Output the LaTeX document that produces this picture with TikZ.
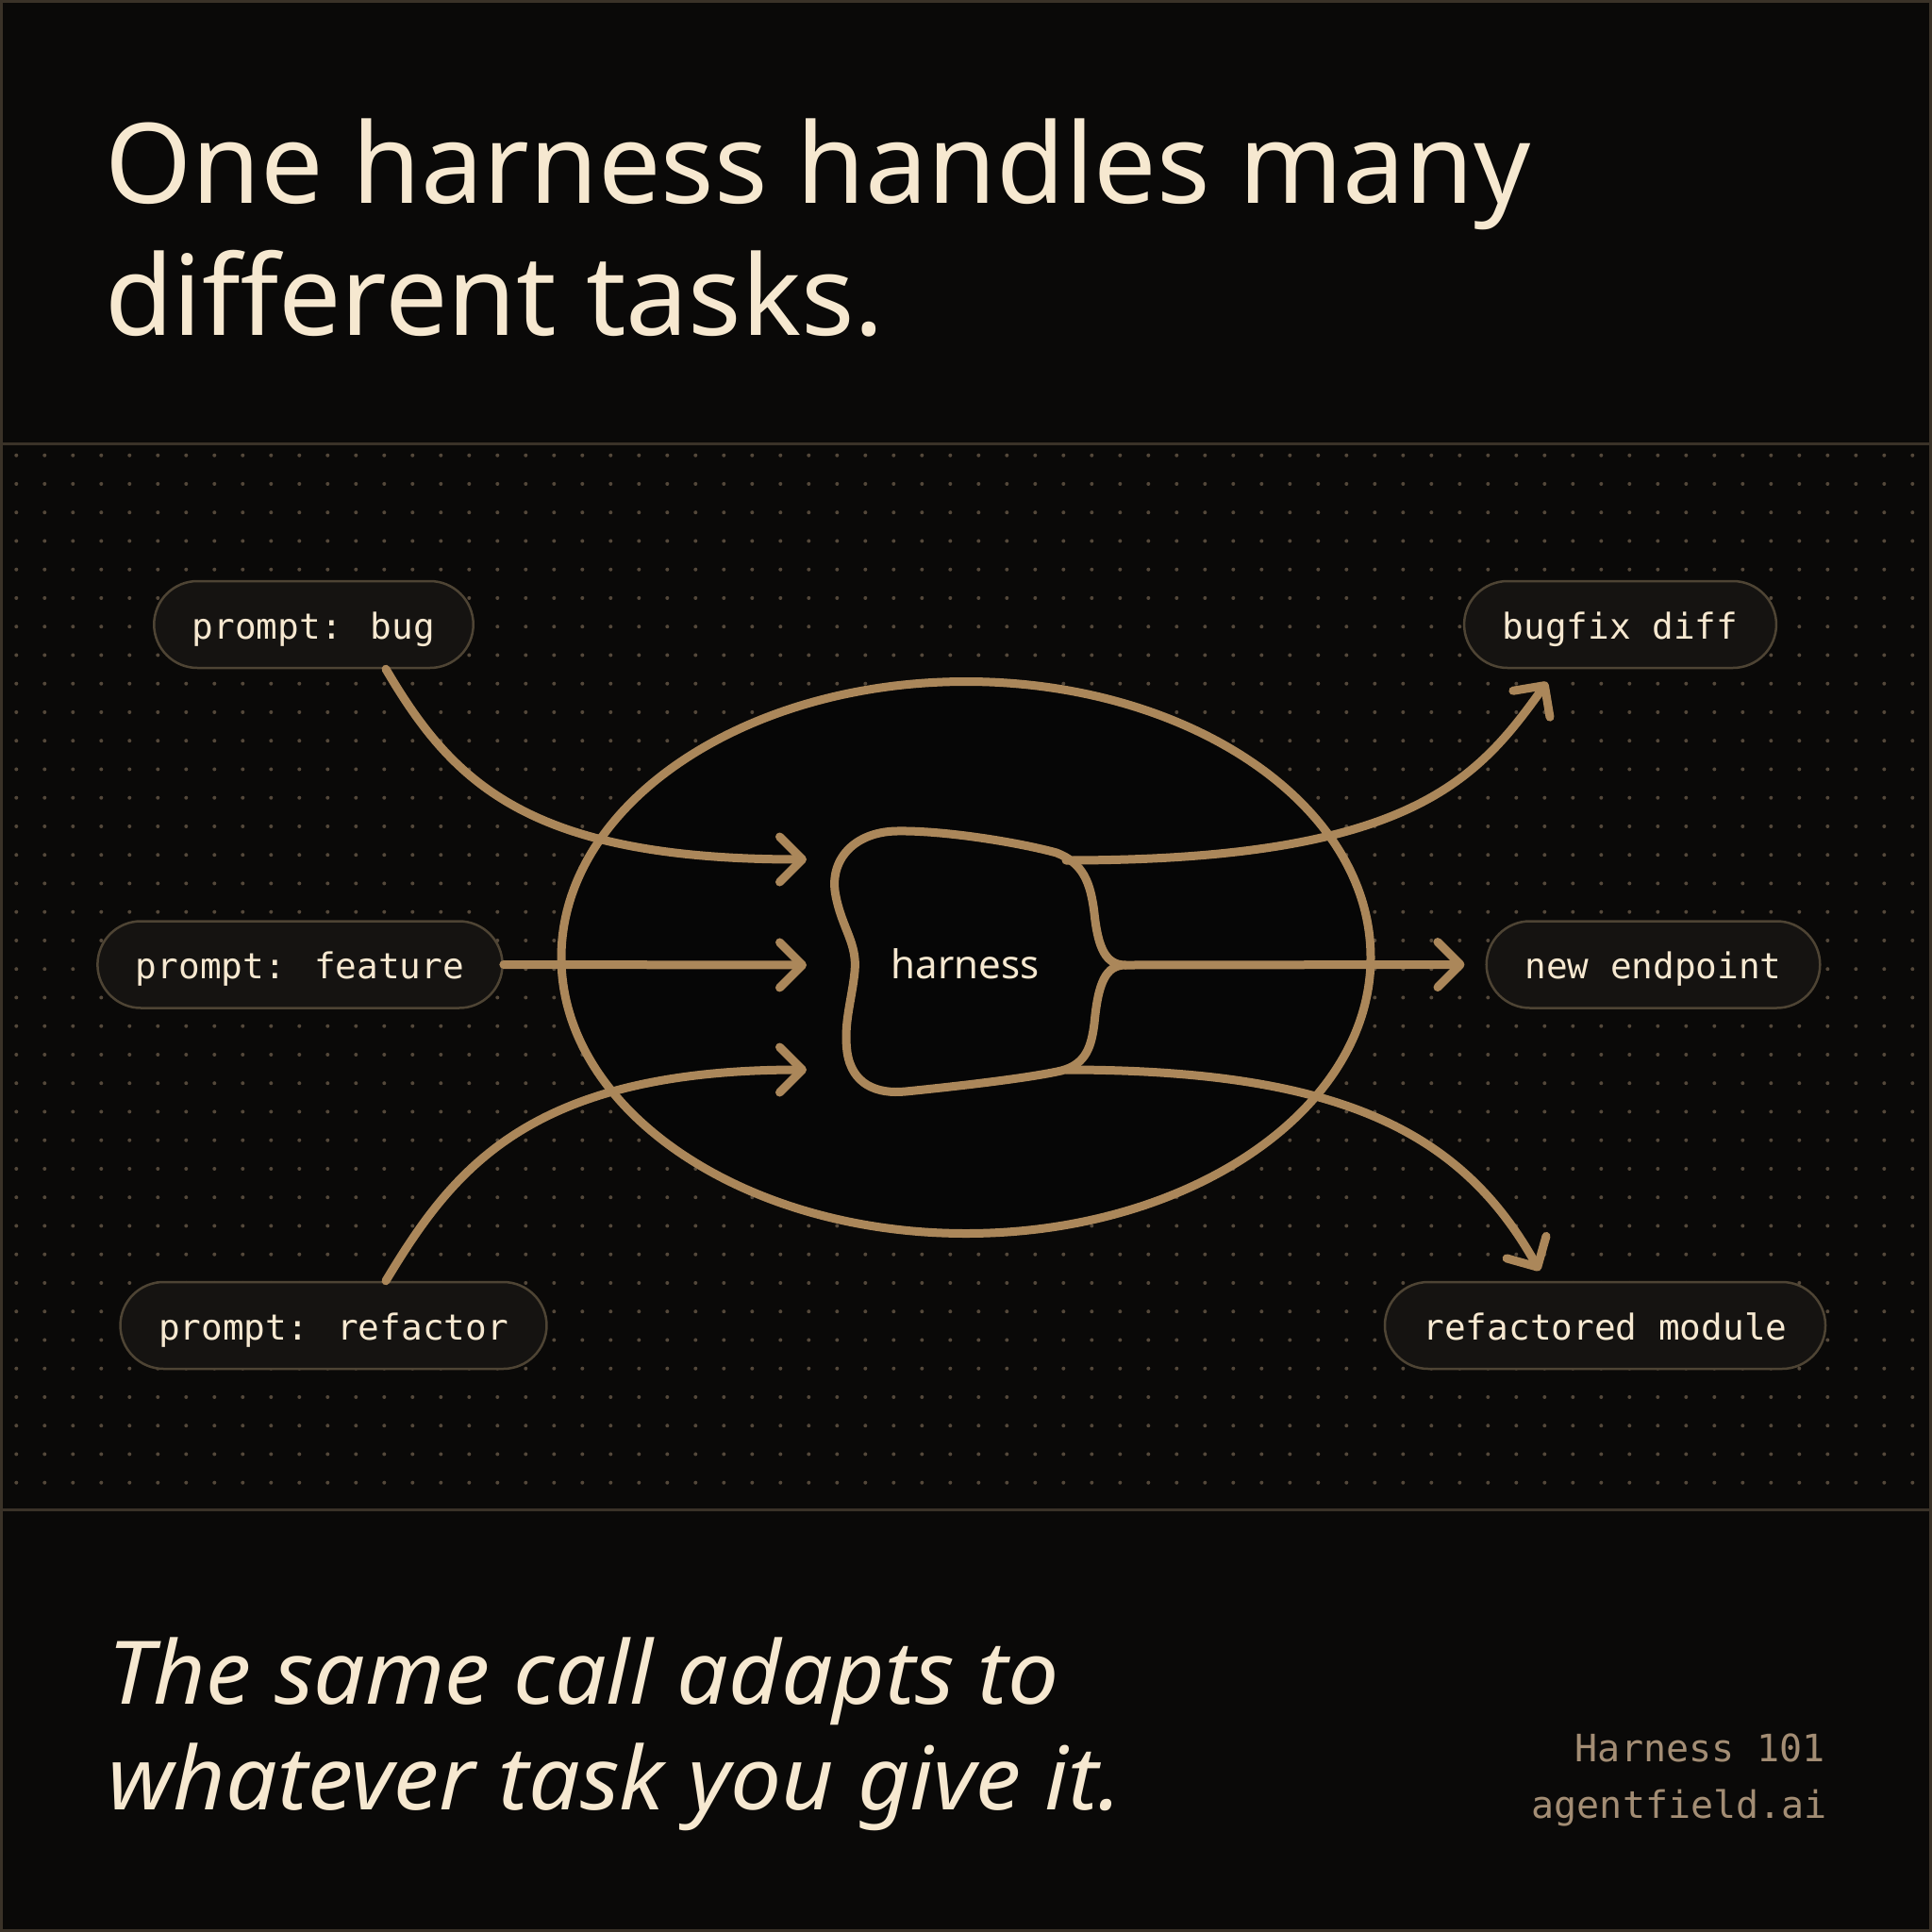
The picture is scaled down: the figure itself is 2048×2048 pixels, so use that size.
\documentclass[tikz,border=0pt]{standalone}
\usepackage{fontspec}
\setmainfont{Noto Sans}
\newfontfamily\monof{DejaVu Sans Mono}
\newfontfamily\footf[FakeStretch=1.035]{Noto Sans}
\usetikzlibrary{arrows.meta}
\definecolor{bg}{HTML}{0A0908}
\definecolor{ellfill}{HTML}{060606}
\definecolor{gold}{HTML}{AB875A}
\definecolor{cream}{HTML}{F6E8D0}
\definecolor{pillfill}{HTML}{151311}
\definecolor{pillborder}{HTML}{4E4434}
\definecolor{dotc}{HTML}{54483A}
\definecolor{framec}{HTML}{3A3228}
\definecolor{muted}{HTML}{A38D74}
\tikzset{
  pill/.style={draw=pillborder, line width=2.5pt, fill=pillfill, rounded corners=46pt,
    minimum height=92pt, inner xsep=40.6pt, inner ysep=0pt, text height=36pt, text depth=6pt,
    text=cream, font=\monof\fontsize{37.7}{44}\selectfont},
  conn/.style={draw=gold, line width=9pt, line cap=round, line join=round},
  arr/.style={-{Straight Barb[length=24pt,width=48pt,line cap=round,line join=round]}},
  titletext/.style={anchor=base west, inner sep=0pt, text=cream, font=\fontsize{118}{140}\selectfont},
  foottext/.style={anchor=base west, inner sep=0pt, text=cream, font=\footf\itshape\fontsize{93}{110}\selectfont},
  brand/.style={anchor=base east, inner sep=0pt, text=muted, font=\monof\fontsize{40}{48}\selectfont}
}
\begin{document}
\begin{tikzpicture}[x=1pt,y=-1pt]
\useasboundingbox (0,0) rectangle (2048,2048);
\fill[bg] (0,0) rectangle (2048,2048);
% dot grid
\foreach \i in {0,...,67} {
  \foreach \j in {0,...,36} {
    \fill[dotc] (17.3+30*\i, 482.7+30.25*\j) circle[radius=2pt];
  }
}
% frame and separators
\draw[framec, line width=3pt] (1.5,1.5) rectangle (2046.5,2046.5);
\draw[framec, line width=3pt] (0,470) -- (2048,470);
\draw[framec, line width=3pt] (0,1600) -- (2048,1600);
% title
\node[titletext] (title1) at (111,215) {One harness handles many};
\node[titletext] (title2) at (111,355) {different tasks.};
% big ellipse
\filldraw[fill=ellfill, draw=gold, line width=9pt] (1024,1015) ellipse [x radius=429pt, y radius=292.5pt];
% pills
\node[pill] (p1) at (332.5,662) {prompt: bug};
\node[pill] (p2) at (318,1022.5) {prompt: feature};
\node[pill] (p3) at (353.5,1405) {prompt: refactor};
\node[pill] (p4) at (1717.5,662) {bugfix diff};
\node[pill] (p5) at (1752.5,1022.5) {new endpoint};
\node[pill] (p6) at (1701.5,1405) {refactored module};
% harness blob
\draw[conn] (1193,1023)
  .. controls (1172,1023) and (1164,1005) .. (1160,968)
  .. controls (1156,935) and (1148,915) .. (1120,904)
  .. controls (1080,893) and (1000,880) .. (950,881)
  .. controls (905,882) and (878,912) .. (886,950)
  .. controls (893,985) and (909,1000) .. (906,1030)
  .. controls (903,1060) and (894,1085) .. (898,1115)
  .. controls (903,1150) and (930,1160) .. (960,1157)
  .. controls (1010,1152) and (1090,1143) .. (1125,1135)
  .. controls (1152,1128) and (1157,1108) .. (1160,1085)
  .. controls (1164,1042) and (1172,1023) .. (1193,1023);
\node[inner sep=0pt, anchor=base, text=cream, font=\fontsize{42}{50}\selectfont] (h) at (1023,1037) {harness};
% named ends
\coordinate (h1) at (855,911);
\coordinate (h2) at (855,1023);
\coordinate (h3) at (855,1134);
\coordinate (o1) at (1130,912);
\coordinate (o2) at (1193,1023);
\coordinate (o3) at (1130,1134);
\coordinate (t1) at (1640,723);
\coordinate (t3) at (1632,1347);
% inputs
\draw[conn, arr] ([xshift=76.5pt]p1.south) .. controls (480,830) and (560,911) .. (h1);
\draw[conn, arr] (p2.east) -- (h2);
\draw[conn, arr] ([xshift=55.5pt]p3.north) .. controls (480,1240) and (560,1134) .. (h3);
% outputs
\draw[conn, arr] (o1) .. controls (1493,912) and (1565,828) .. (t1);
\draw[conn, arr] (o2) -- ([xshift=-22pt]p5.west);
\draw[conn, arr] (o3) .. controls (1420,1134) and (1549,1199) .. (t3);
% footer
\node[foottext] (f1) at (114,1806) {The same call adapts to};
\node[foottext] (f2) at (114,1918) {whatever task you give it.};
\node[brand] (b1) at (1935,1867) {Harness 101};
\node[brand] (b2) at (1937,1927) {agentfield.ai};
\end{tikzpicture}
\end{document}
